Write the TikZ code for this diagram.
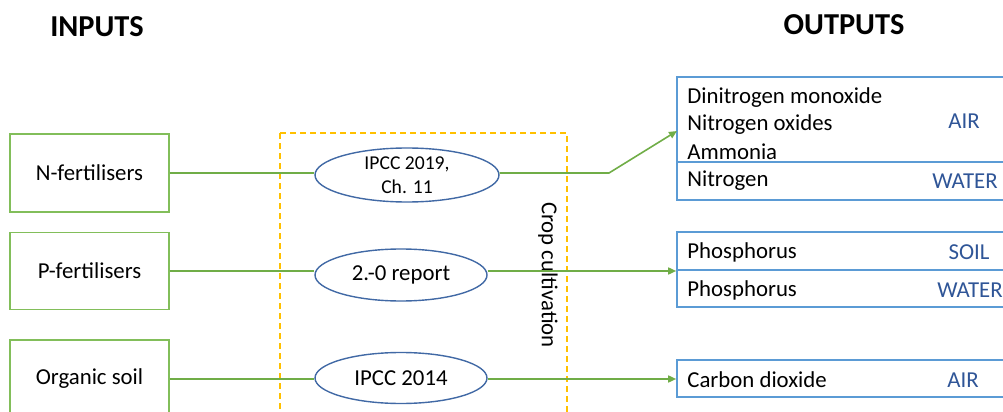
\documentclass[tikz,border=0pt]{standalone}
\usepackage{fontspec}
\setmainfont{Carlito}
\usetikzlibrary{shapes.geometric,arrows.meta}
\definecolor{grn}{RGB}{112,173,71}
\definecolor{grnbox}{RGB}{130,190,90}
\definecolor{ebl}{RGB}{65,105,165}
\definecolor{obl}{RGB}{91,155,213}
\definecolor{tbl}{RGB}{47,85,151}
\definecolor{ylw}{RGB}{255,192,0}
\tikzset{
  inbox/.style={draw=grnbox,line width=0.8pt,minimum width=79.5pt,minimum height=39pt,inner sep=0pt,font=\fontsize{11.4}{13.5}\selectfont},
  src/.style={draw=ebl,ellipse,line width=0.7pt,inner sep=0pt,align=center},
  outbox/.style={draw=obl,line width=0.8pt,inner sep=0pt},
  conn/.style={draw=grn,line width=0.8pt},
  arr/.style={conn,-{Triangle[length=4pt,width=3.5pt]}},
  otxt/.style={anchor=west,inner sep=0pt,font=\fontsize{11.4}{13.5}\selectfont},
  ctag/.style={inner sep=0pt,text=tbl,font=\fontsize{11.4}{13.5}\selectfont},
  head/.style={inner sep=0pt,font=\fontsize{15.2}{18}\selectfont\bfseries}
}
\begin{document}
\begin{tikzpicture}[x=0.5pt,y=-0.5pt]
\useasboundingbox (0,0) rectangle (1003,412);
\clip (0,0) rectangle (1003,412);
% headers
\node[head] (hin) at (97,27) {INPUTS};
\node[head] (hout) at (844,25) {OUTPUTS};
% crop cultivation box
\draw[ylw,line width=0.7pt,dash pattern=on 3pt off 2pt] (280,133) -- (567,133) -- (567,430) (280,133) -- (280,430);
\node[rotate=-90,inner sep=0pt,font=\fontsize{11.4}{13.5}\selectfont] (crop) at (548,275) {Crop cultivation};
% inputs
\node[inbox] (nf) at (89.5,173) {N-fertilisers};
\node[inbox,minimum height=38.5pt] (pf) at (89.5,271) {P-fertilisers};
\node[inbox] (os) at (89.5,379) {Organic soil};
% sources
\node[src,minimum width=92pt,minimum height=27pt,font=\fontsize{9.8}{11.8}\selectfont] (e1) at (407,175) {IPCC 2019,\\Ch. 11};
\node[src,minimum width=86pt,minimum height=26pt,font=\fontsize{11.4}{13.5}\selectfont] (e2) at (401,275) {2.-0 report};
\node[src,minimum width=86pt,minimum height=25.5pt,font=\fontsize{11.4}{13.5}\selectfont] (e3) at (401,378) {IPCC 2014};
% output boxes
\node[outbox,minimum width=166.5pt,minimum height=61.5pt] (o1) at (843.5,138.5) {};
\draw[obl,line width=0.8pt] (o1.west |- 0,162) -- (o1.east |- 0,162);
\node[outbox,minimum width=166.5pt,minimum height=37.5pt] (o2) at (843.5,269.5) {};
\draw[obl,line width=0.8pt] (o2.west |- 0,270) -- (o2.east |- 0,270);
\node[outbox,minimum width=166.5pt,minimum height=18.5pt] (o3) at (843.5,378.5) {};
% output texts
\node[otxt] (t11) at (687,98) {Dinitrogen monoxide};
\node[otxt] (t12) at (687,125) {Nitrogen oxides};
\node[otxt] (t13) at (687,152) {Ammonia};
\node[otxt] (t14) at (687,181) {Nitrogen};
\node[ctag] (c11) at (964,121) {AIR};
\node[ctag] (c12) at (965,181) {WATER};
\node[otxt] (t21) at (687,252) {Phosphorus};
\node[otxt] (t22) at (687,290) {Phosphorus};
\node[ctag] (c21) at (969,252) {SOIL};
\node[ctag] (c22) at (970,290) {WATER};
\node[otxt] (t31) at (687,380) {Carbon dioxide};
\node[ctag] (c31) at (963,380) {AIR};
% connectors
\coordinate (b1) at (609,173);
\coordinate (a1) at (677,131);
\draw[conn] (nf.east) -- (nf.east -| e1.west);
\draw[arr] (e1.east |- nf.east) -- (b1) -- (a1);
\draw[conn] (pf.east) -- (pf.east -| e2.west);
\draw[arr] (e2.east |- pf.east) -- (pf.east -| o2.west);
\draw[conn] (os.east) -- (os.east -| e3.west);
\draw[arr] (e3.east |- os.east) -- (os.east -| o3.west);
\end{tikzpicture}
\end{document}
